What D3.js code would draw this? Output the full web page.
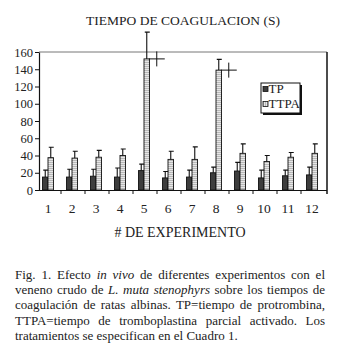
<!DOCTYPE html>
<html>
<head>
<meta charset="utf-8">
<script src="https://cdn.jsdelivr.net/npm/d3@7"></script>
<style>
  body { margin: 0; background: white; }
  #grafico { position: absolute; left: 0; top: 0; }
  #leyenda-fig {
    position: absolute; left: 15px; top: 267px; width: 310px;
    font-family: "Liberation Serif", Times, "DejaVu Serif", serif;
    font-size: 13px; line-height: 15.2px; color: #222;
  }
  #leyenda-fig .linea { text-align: justify; text-align-last: justify; white-space: nowrap; }
  #leyenda-fig .ultima { text-align: left; text-align-last: left; }
</style>
</head>
<body>
<div id="grafico"></div>
<div id="leyenda-fig">
  <div class="linea">Fig. 1. Efecto <i>in vivo</i> de diferentes experimentos con el</div>
  <div class="linea">veneno crudo de <i>L. muta stenophyrs</i> sobre los tiempos de</div>
  <div class="linea">coagulación de ratas albinas. TP=tiempo de protrombina,</div>
  <div class="linea">TTPA=tiempo de tromboplastina parcial activado. Los</div>
  <div class="linea ultima">tratamientos se especifican en el Cuadro 1.</div>
</div>
<script>
// Datos del gráfico
const experimentos = ["1", "2", "3", "4", "5", "6", "7", "8", "9", "10", "11", "12"];
const series = ["TP", "TTPA"];
const tp = [15, 15, 16, 15, 22.5, 14, 15, 20, 22, 14, 16.5, 17.5];
const tpDe = [8, 9, 8, 10.5, 7.5, 7.5, 8, 6.5, 10, 9, 6.5, 9];
const ttpa = [37.5, 37, 38, 40, 152, 35.5, 35.5, 139, 42.5, 33, 38, 42.5];
const ttpaDe = [12, 8, 8, 7.5, 31, 9.5, 14.5, 12.5, 11, 7, 5.5, 11];
const significativos = ["5", "8"];
const yTicks = [0, 20, 40, 60, 80, 100, 120, 140, 160];

const width = 347;
const height = 353;
const fuente = "'Liberation Serif', Times, 'DejaVu Serif', serif";

const svg = d3.select("#grafico")
    .append("svg")
    .attr("width", width)
    .attr("height", height);

// Patrón punteado para TTPA
const defs = svg.append("defs");
const patron = defs.append("pattern")
    .attr("id", "punteado")
    .attr("width", 2)
    .attr("height", 2)
    .attr("patternUnits", "userSpaceOnUse");
patron.append("rect").attr("width", 2).attr("height", 2).attr("fill", "#e6e6e6");
patron.append("rect").attr("width", 1).attr("height", 1).attr("fill", "#8a8a8a");

const colores = { TP: "#3d3d3d", TTPA: "url(#punteado)" };

// Datos por grupo
const datos = experimentos.map((e, i) => ({
    exp: e,
    valores: [
        { serie: "TP", valor: tp[i], de: tpDe[i] },
        { serie: "TTPA", valor: ttpa[i], de: ttpaDe[i] }
    ]
}));

// Escalas
const x0 = d3.scaleBand().domain(experimentos).range([36, 324])
    .paddingInner(0.54).paddingOuter(0.27);
const x1 = d3.scaleBand().domain(series).range([0, x0.bandwidth()]);
const y = d3.scaleLinear().domain([0, 160]).range([190, 52]);

const plotIzq = 39, plotDer = 327;

// Marco: borde superior gris y derecho negro
svg.append("line")
    .attr("x1", plotIzq).attr("x2", plotDer)
    .attr("y1", y(160)).attr("y2", y(160))
    .attr("stroke", "#777").attr("stroke-width", 1);
svg.append("line")
    .attr("x1", plotDer).attr("x2", plotDer)
    .attr("y1", y(160)).attr("y2", y(0) + 4)
    .attr("stroke", "#111").attr("stroke-width", 1.5);

// Eje Y
const ejeY = svg.append("g")
    .attr("transform", `translate(${plotIzq},0)`)
    .call(d3.axisLeft(y).tickValues(yTicks).tickSize(4).tickSizeOuter(0));
ejeY.select(".domain").attr("stroke", "#111").attr("stroke-width", 1.2);
ejeY.selectAll(".tick line").attr("stroke", "#111");
ejeY.selectAll(".tick text")
    .attr("x", -6)
    .style("font-family", fuente)
    .style("font-size", "12.5px")
    .attr("fill", "#222");

// Eje X
svg.append("line")
    .attr("x1", plotIzq).attr("x2", plotDer)
    .attr("y1", y(0) + 0.5).attr("y2", y(0) + 0.5)
    .attr("stroke", "#111").attr("stroke-width", 1.2);
svg.append("g")
    .selectAll("line")
    .data(experimentos.slice(0, -1))
    .join("line")
    .attr("x1", d => x0(d) + x0.step() - (x0.step() - x0.bandwidth()) / 2 + 1)
    .attr("x2", d => x0(d) + x0.step() - (x0.step() - x0.bandwidth()) / 2 + 1)
    .attr("y1", y(0) + 0.5).attr("y2", y(0) + 4)
    .attr("stroke", "#111");
svg.append("g")
    .selectAll("text")
    .data(experimentos)
    .join("text")
    .attr("x", d => x0(d) + x0.bandwidth() / 2)
    .attr("y", 213)
    .attr("text-anchor", "middle")
    .style("font-family", fuente)
    .style("font-size", "13.5px")
    .attr("fill", "#222")
    .text(d => d);

// Barras
const grupos = svg.append("g")
    .selectAll("g")
    .data(datos)
    .join("g")
    .attr("transform", d => `translate(${x0(d.exp)},0)`);

grupos.selectAll("rect")
    .data(d => d.valores)
    .join("rect")
    .attr("x", d => x1(d.serie))
    .attr("y", d => y(d.valor))
    .attr("width", x1.bandwidth())
    .attr("height", d => y(0) - y(d.valor))
    .attr("fill", d => colores[d.serie])
    .attr("stroke", "#111")
    .attr("stroke-width", 0.9);

// Barras de error (solo hacia arriba)
grupos.selectAll("path.error")
    .data(d => d.valores)
    .join("path")
    .attr("class", "error")
    .attr("d", d => {
        const cx = x1(d.serie) + x1.bandwidth() / 2;
        const yt = y(d.valor + d.de);
        return `M${cx},${y(d.valor)}V${yt}M${cx - 2},${yt}H${cx + 3}`;
    })
    .attr("fill", "none")
    .attr("stroke", "#111")
    .attr("stroke-width", 1.1);

// Marcas "+" de diferencia significativa
svg.append("g")
    .selectAll("path")
    .data(significativos)
    .join("path")
    .attr("d", d => {
        const i = experimentos.indexOf(d);
        const cx = x0(d) + x1("TTPA") + x1.bandwidth() / 2 + 10;
        const cy = y(ttpa[i]);
        return `M${cx - 8},${cy}H${cx + 8}M${cx},${cy - 7.5}V${cy + 7.5}`;
    })
    .attr("fill", "none")
    .attr("stroke", "#111")
    .attr("stroke-width", 1);

// Leyenda
const leyenda = svg.append("g").attr("transform", "translate(261,83)");
leyenda.append("rect")
    .attr("x", 2).attr("y", 2).attr("width", 39).attr("height", 30)
    .attr("fill", "#111");
leyenda.append("rect")
    .attr("width", 39).attr("height", 30)
    .attr("fill", "white").attr("stroke", "#111").attr("stroke-width", 1);
const items = leyenda.selectAll("g.item")
    .data(series)
    .join("g")
    .attr("class", "item")
    .attr("transform", (d, i) => `translate(2,${3.5 + i * 15})`);
items.append("rect")
    .attr("width", 5).attr("height", 5)
    .attr("fill", d => colores[d])
    .attr("stroke", "#111").attr("stroke-width", 0.8);
items.append("text")
    .attr("x", 5.5).attr("y", 6.5)
    .style("font-family", fuente)
    .style("font-size", "13px")
    .attr("fill", "#222")
    .text(d => d);

// Títulos
svg.append("text")
    .attr("x", 183).attr("y", 25)
    .attr("text-anchor", "middle")
    .style("font-family", fuente)
    .style("font-size", "13.5px")
    .attr("fill", "#222")
    .text("TIEMPO DE COAGULACION (S)");

svg.append("text")
    .attr("x", 180).attr("y", 237)
    .attr("text-anchor", "middle")
    .style("font-family", fuente)
    .style("font-size", "14px")
    .attr("fill", "#222")
    .text("# DE EXPERIMENTO");
</script>
</body>
</html>
